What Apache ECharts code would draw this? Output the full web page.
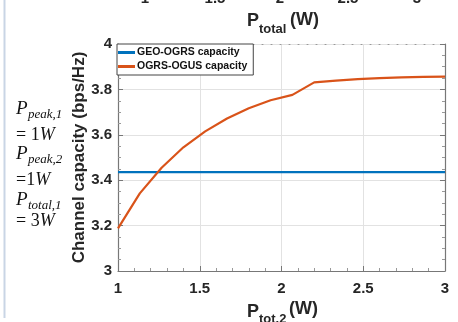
<!DOCTYPE html>
<html><head><meta charset="utf-8">
<script src="https://cdn.jsdelivr.net/npm/echarts@6/dist/echarts.min.js"></script>
<style>html,body{margin:0;padding:0;background:#fff}#c{width:458px;height:322px}</style>
</head><body><div id="c"></div>
<script>
const xValues = [1, 1.1333, 1.2667, 1.4, 1.5333, 1.6667, 1.8, 1.9333, 2.0667, 2.2, 2.3333, 2.4667, 2.6, 2.7333, 2.8667, 3];
const ogrsOgus = [3.188, 3.342, 3.455, 3.545, 3.615, 3.672, 3.717, 3.752, 3.776, 3.831, 3.839, 3.845, 3.850, 3.853, 3.855, 3.856];
const geoOgrs = 3.436;
const xTicks = [1, 1.5, 2, 2.5, 3];
const yTicks = [3, 3.2, 3.4, 3.6, 3.8, 4];
const topTickLabels = ['1', '1.5', '2', '2.5', '3'];
const topTickX = [145, 215, 280, 348, 417];

const chart = echarts.init(document.getElementById('c'));
const bold = {fontFamily: 'Liberation Sans, Arial, sans-serif', fontWeight: 'bold', color: '#262626'};
const serif = 'Liberation Serif, Times New Roman, serif';

const graphics = [
  {type: 'rect', shape: {x: 3.5, y: 0, width: 2, height: 318}, style: {fill: '#c9d5e5'}, silent: true},
];
topTickLabels.forEach((t, i) => graphics.push({type: 'text', x: topTickX[i], y: 6, style: {text: t, font: 'bold 15px Liberation Sans', textAlign: 'center', textVerticalAlign: 'bottom', fill: '#262626'}}));
// top axis name P_total (W)
graphics.push({type: 'text', x: 247, y: 21, style: {text: 'P', font: 'bold 18px Liberation Sans', textVerticalAlign: 'middle', fill: '#262626'}});
graphics.push({type: 'text', x: 259, y: 29, style: {text: 'total', font: 'bold 13px Liberation Sans', textVerticalAlign: 'middle', fill: '#262626'}});
graphics.push({type: 'text', x: 290, y: 20, style: {text: '(W)', font: 'bold 18px Liberation Sans', textVerticalAlign: 'middle', fill: '#262626'}});
// bottom axis name P_tot,2 (W)
graphics.push({type: 'text', x: 247, y: 312, style: {text: 'P', font: 'bold 18px Liberation Sans', textVerticalAlign: 'middle', fill: '#262626'}});
graphics.push({type: 'text', x: 259, y: 319, style: {text: 'tot,2', font: 'bold 13px Liberation Sans', textVerticalAlign: 'middle', fill: '#262626'}});
graphics.push({type: 'text', x: 289, y: 309, style: {text: '(W)', font: 'bold 18px Liberation Sans', textVerticalAlign: 'middle', fill: '#262626'}});
// left annotation
const annMain = [['P', 'peak,1', 109], ['P', 'peak,2', 154], ['P', 'total,1', 200]];
const annEq = [['= 1', 135], ['=1', 180], ['= 3', 221]];
annMain.forEach(a => {
  graphics.push({type: 'text', x: 16, y: a[2], style: {text: a[0], font: 'italic 19px ' + serif, textVerticalAlign: 'middle', fill: '#111'}});
  graphics.push({type: 'text', x: 28, y: a[2] + 6, style: {text: a[1], font: 'italic 13px ' + serif, textVerticalAlign: 'middle', fill: '#111'}});
});
annEq.forEach(a => {
  graphics.push({type: 'text', x: 16, y: a[1], style: {
    text: '{n|' + a[0] + '}{i|W}', textVerticalAlign: 'middle', fill: '#111',
    rich: {n: {fontFamily: serif, fontSize: 18, fill: '#111'}, i: {fontFamily: serif, fontStyle: 'italic', fontSize: 18, fill: '#111'}}
  }});
});

chart.setOption({
  animation: false,
  grid: {left: 118, right: 13, top: 44, bottom: 51},
  legend: {
    left: 117, top: 44, orient: 'vertical', itemGap: 3, itemWidth: 17, itemHeight: 3,
    backgroundColor: '#fff', borderColor: '#444', borderWidth: 1, borderRadius: 0,
    padding: [3, 6, 3, 1],
    icon: 'rect',
    textStyle: {fontFamily: 'Liberation Sans, Arial', fontWeight: 'bold', fontSize: 10.5, color: '#111', padding: [0, 0, 0, -3]},
    data: ['GEO-OGRS capacity', 'OGRS-OGUS capacity']
  },
  xAxis: [{
    type: 'value', min: 1, max: 3, interval: 0.5,
    axisLine: {onZero: false, lineStyle: {color: '#777', width: 1.2}},
    axisTick: {inside: true, length: 5, lineStyle: {color: '#777'}},
    minorTick: {show: true, splitNumber: 5, length: 3, lineStyle: {color: '#999'}},
    splitLine: {show: true, lineStyle: {color: '#e2e2e2'}},
    axisLabel: Object.assign({fontSize: 15, margin: 10, formatter: v => String(v)}, bold)
  }, {
    type: 'value', min: 1, max: 3, interval: 0.5, position: 'top',
    axisLine: {show: true, lineStyle: {color: '#999', type: [1, 8], width: 1}},
    axisTick: {show: false}, axisLabel: {show: false}, splitLine: {show: false}
  }],
  yAxis: [{
    type: 'value', min: 3, max: 4, interval: 0.2,
    name: 'Channel capacity (bps/Hz)', nameLocation: 'middle', nameGap: 30, nameMoveOverlap: false,
    nameTextStyle: Object.assign({fontSize: 17}, bold),
    axisLine: {show: true, lineStyle: {color: '#777', width: 1.2}},
    axisTick: {show: true, inside: true, length: 5, lineStyle: {color: '#777'}},
    minorTick: {show: true, splitNumber: 4, length: 3, lineStyle: {color: '#999'}},
    splitLine: {show: true, lineStyle: {color: '#e2e2e2'}},
    axisLabel: Object.assign({fontSize: 15, margin: 6, formatter: v => String(Math.round(v * 10) / 10)}, bold)
  }, {
    type: 'value', min: 3, max: 4, interval: 0.2, position: 'right',
    axisLine: {show: true, lineStyle: {color: '#777', width: 1.2}},
    axisTick: {show: true, inside: true, length: 5, lineStyle: {color: '#777'}},
    minorTick: {show: true, splitNumber: 4, length: 3, lineStyle: {color: '#999'}},
    axisLabel: {show: false}, splitLine: {show: false}
  }],
  series: [{
    name: 'GEO-OGRS capacity', type: 'line', showSymbol: false, color: '#0072BD',
    lineStyle: {width: 2.2},
    data: [[xTicks[0], geoOgrs], [xTicks[xTicks.length - 1], geoOgrs]]
  }, {
    name: 'OGRS-OGUS capacity', type: 'line', showSymbol: false, color: '#D95319',
    lineStyle: {width: 2.2},
    data: xValues.map((x, i) => [x, ogrsOgus[i]])
  }],
  graphic: graphics
});
</script></body></html>
